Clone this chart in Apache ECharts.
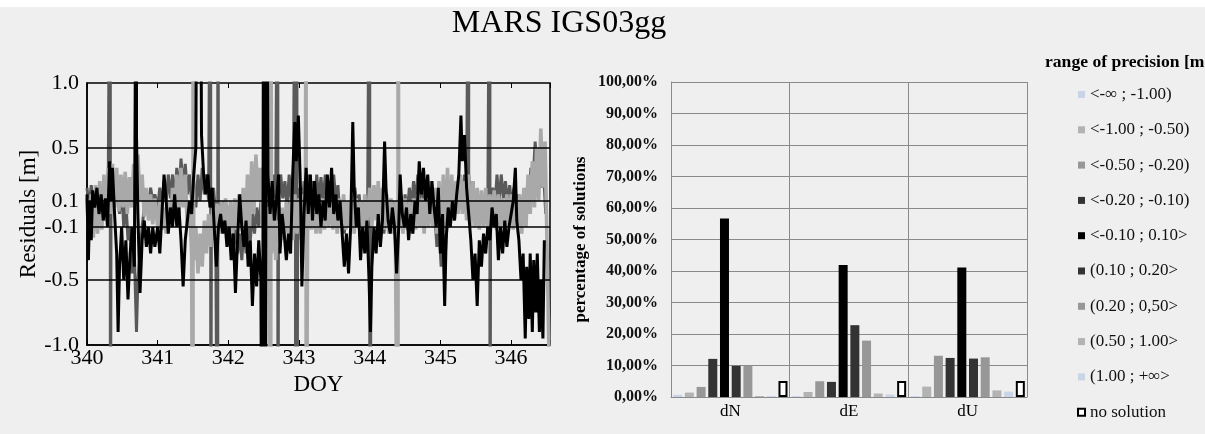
<!DOCTYPE html>
<html><head><meta charset="utf-8">
<script src="https://cdn.jsdelivr.net/npm/echarts@6/dist/echarts.min.js"></script>
<style>html,body{margin:0;padding:0;background:#efefef}#c{width:1205px;height:434px}</style>
</head><body><div id="c"></div>
<script>
// ---------- DATA ----------
// Left panel: residuals [m] vs DOY (three components; +-3 = off-scale outliers)
const doyTicks = [340, 341, 342, 343, 344, 345, 346];
const residualTicks = [-1.0, -0.5, -0.1, 0.1, 0.5, 1.0];
const residualTickLabels = ['-1.0', '-0.5', '-0.1', '0.1', '0.5', '1.0'];
const residualGridLines = [-0.5, -0.1, 0.1, 0.5];

const resLight = [[340.00,0.12],[340.03,-0.2],[340.06,0.15],[340.09,-0.18],[340.12,0.22],[340.15,-0.15],[340.18,0.25],[340.21,-0.12],[340.24,0.3],[340.27,-0.05],[340.30,0.35],[340.33,0.0],[340.36,0.38],[340.39,0.05],[340.42,0.35],[340.45,0.02],[340.48,0.3],[340.51,0.05],[340.54,0.32],[340.57,0.0],[340.60,0.28],[340.63,0.05],[340.66,0.38],[340.69,0.08],[340.72,0.45],[340.75,0.1],[340.78,0.3],[340.81,-0.02],[340.84,0.2],[340.87,-0.05],[340.90,0.15],[340.93,-0.08],[340.96,0.12],[341.00,-0.1],[341.03,0.1],[341.06,-0.12],[341.09,0.05],[341.12,-0.15],[341.15,0.1],[341.18,-0.1],[341.21,0.2],[341.24,-0.05],[341.27,0.3],[341.30,0.0],[341.33,0.35],[341.36,0.05],[341.39,0.3],[341.42,-0.1],[341.45,0.1],[341.48,-0.3],[341.50,-3],[341.50,3],[341.51,-0.35],[341.54,-0.1],[341.57,-0.45],[341.60,-0.15],[341.63,-0.4],[341.66,-0.05],[341.69,-0.3],[341.72,0.0],[341.75,-0.25],[341.78,0.05],[341.81,-0.2],[341.84,0.08],[341.87,-0.15],[341.90,0.1],[341.93,-0.12],[341.96,0.12],[342.00,-0.1],[342.03,0.1],[342.06,-0.15],[342.09,0.12],[342.12,-0.12],[342.15,0.15],[342.18,-0.1],[342.21,0.2],[342.24,-0.15],[342.27,0.3],[342.30,-0.1],[342.33,0.4],[342.36,0.0],[342.39,0.45],[342.42,0.1],[342.45,0.35],[342.48,-0.1],[342.51,0.2],[342.54,-0.25],[342.57,0.05],[342.60,-3],[342.60,3],[342.61,-0.3],[342.64,0.0],[342.67,-0.35],[342.70,-0.05],[342.73,-0.25],[342.76,0.05],[342.79,-0.2],[342.82,0.1],[342.85,-0.15],[342.88,0.1],[342.91,-0.2],[342.94,0.15],[342.97,-0.15],[343.00,0.12],[343.03,-0.2],[343.06,0.15],[343.09,-0.1],[343.10,3],[343.10,-3],[343.12,-0.15],[343.15,0.15],[343.18,-0.12],[343.21,0.12],[343.24,-0.15],[343.27,0.1],[343.30,-0.15],[343.33,0.12],[343.36,-0.12],[343.39,0.15],[343.42,-0.1],[343.45,0.18],[343.48,-0.12],[343.51,0.15],[343.54,-0.15],[343.57,0.12],[343.60,-0.1],[343.63,0.15],[343.66,-0.12],[343.69,0.1],[343.72,-0.1],[343.75,0.15],[343.78,-0.15],[343.81,0.12],[343.84,-0.1],[343.87,0.1],[343.90,-0.15],[343.93,0.15],[343.96,-0.1],[344.00,0.2],[344.03,-0.1],[344.06,0.22],[344.09,-0.05],[344.12,0.25],[344.15,-0.1],[344.18,0.2],[344.21,-0.12],[344.24,0.15],[344.27,-0.15],[344.30,0.12],[344.33,-0.15],[344.36,0.1],[344.40,-3],[344.40,3],[344.41,-0.1],[344.44,0.15],[344.47,-0.15],[344.50,0.12],[344.53,-0.12],[344.56,0.1],[344.59,-0.15],[344.62,0.12],[344.65,-0.12],[344.68,0.15],[344.71,-0.1],[344.74,0.12],[344.77,-0.15],[344.80,0.2],[344.83,-0.1],[344.86,0.25],[344.89,-0.1],[344.92,0.2],[344.95,-0.15],[344.98,0.25],[345.01,-0.2],[345.04,0.3],[345.07,-0.15],[345.10,0.35],[345.13,-0.1],[345.16,0.3],[345.19,-0.05],[345.22,0.25],[345.25,0.0],[345.28,0.3],[345.31,0.0],[345.34,0.25],[345.37,-0.05],[345.40,0.3],[345.43,-0.1],[345.46,0.25],[345.49,-0.1],[345.52,0.2],[345.55,-0.12],[345.58,0.18],[345.61,-0.1],[345.64,0.2],[345.67,-0.12],[345.70,0.15],[345.73,-0.1],[345.76,0.18],[345.79,-0.12],[345.82,0.15],[345.85,-0.1],[345.88,0.12],[345.91,-0.12],[345.94,0.15],[345.97,-0.1],[346.00,0.15],[346.03,-0.12],[346.06,0.12],[346.09,-0.1],[346.12,0.15],[346.15,-0.15],[346.18,0.2],[346.21,-0.1],[346.24,0.3],[346.27,0.0],[346.30,0.4],[346.33,0.05],[346.36,0.5],[346.39,0.1],[346.42,0.65],[346.45,0.2],[346.48,0.55],[346.50,0.0],[346.52,-0.6],[346.54,-1.2]];

const resDark = [[340.00,0.2],[340.03,0.05],[340.06,0.22],[340.09,0.08],[340.12,0.18],[340.15,0.02],[340.18,0.2],[340.21,0.05],[340.24,0.25],[340.27,0.1],[340.30,0.2],[340.33,3],[340.33,-3],[340.34,0.15],[340.37,0.3],[340.40,0.1],[340.43,0.25],[340.46,0.0],[340.49,0.2],[340.52,-0.1],[340.55,0.1],[340.58,-0.2],[340.61,-0.1],[340.64,-0.45],[340.67,-0.3],[340.70,-0.9],[340.72,-0.5],[340.75,-0.3],[340.78,-0.1],[340.81,0.05],[340.84,0.15],[340.87,0.05],[340.90,0.2],[340.93,0.1],[340.96,0.15],[341.00,0.05],[341.03,0.2],[341.06,0.05],[341.09,0.25],[341.12,0.1],[341.15,0.3],[341.18,0.12],[341.21,0.3],[341.24,0.1],[341.27,0.35],[341.30,0.15],[341.33,0.42],[341.36,0.2],[341.39,0.38],[341.42,0.15],[341.45,0.3],[341.48,0.1],[341.51,0.25],[341.54,0.05],[341.57,0.3],[341.60,0.1],[341.63,0.35],[341.66,0.15],[341.69,0.3],[341.72,0.1],[341.75,3],[341.75,-3],[341.76,0.05],[341.79,0.2],[341.82,0.0],[341.85,-3],[341.85,3],[341.86,0.1],[341.89,-0.05],[341.92,0.1],[341.95,-0.1],[341.98,0.0],[342.01,-0.15],[342.04,-0.05],[342.07,-0.25],[342.10,-0.1],[342.13,-0.3],[342.16,-0.15],[342.19,-0.35],[342.22,-0.1],[342.25,-0.3],[342.28,-0.05],[342.31,-0.2],[342.34,0.0],[342.37,-0.15],[342.40,0.05],[342.43,-0.1],[342.46,0.1],[342.49,0.0],[342.52,0.15],[342.55,0.05],[342.58,0.25],[342.61,0.1],[342.64,0.3],[342.67,0.12],[342.70,3],[342.70,-3],[342.71,0.1],[342.74,0.3],[342.77,0.12],[342.80,0.25],[342.83,0.05],[342.86,0.3],[342.89,0.1],[342.92,0.2],[342.95,3],[342.95,-3],[342.97,3],[342.97,-3],[342.98,0.0],[343.01,0.2],[343.04,0.0],[343.07,0.25],[343.10,0.05],[343.13,0.3],[343.16,0.1],[343.19,0.25],[343.22,0.05],[343.25,0.3],[343.28,0.1],[343.31,0.28],[343.34,0.08],[343.37,0.3],[343.40,0.1],[343.43,0.25],[343.46,0.05],[343.49,0.3],[343.52,0.1],[343.55,0.22],[343.58,-0.05],[343.61,0.1],[343.64,-0.15],[343.67,0.05],[343.70,-0.1],[343.73,0.1],[343.76,0.0],[343.79,0.2],[343.82,0.05],[343.85,0.15],[343.88,-0.05],[343.91,0.1],[343.94,-0.1],[343.97,0.05],[344.00,3],[344.00,-3],[344.02,0.0],[344.05,0.15],[344.08,0.0],[344.11,0.1],[344.14,-0.1],[344.17,0.05],[344.20,-0.15],[344.23,0.0],[344.26,0.1],[344.29,-0.05],[344.32,0.1],[344.35,-0.1],[344.38,0.05],[344.41,-0.1],[344.44,0.1],[344.47,-0.05],[344.50,0.15],[344.53,0.0],[344.56,0.2],[344.59,0.05],[344.62,0.25],[344.65,0.08],[344.68,0.3],[344.71,0.1],[344.74,0.3],[344.77,0.05],[344.80,0.25],[344.83,0.0],[344.86,0.15],[344.89,-0.1],[344.92,0.0],[344.95,-0.25],[344.98,-0.1],[345.01,-0.4],[345.04,-0.15],[345.07,-0.3],[345.10,0.0],[345.13,-0.1],[345.16,0.1],[345.19,0.0],[345.22,0.2],[345.25,0.05],[345.28,0.25],[345.31,0.1],[345.34,0.3],[345.37,0.1],[345.40,3],[345.40,0.3],[345.43,0.1],[345.46,0.25],[345.49,0.0],[345.52,0.15],[345.55,-0.1],[345.58,0.1],[345.61,-0.05],[345.64,0.15],[345.67,0.0],[345.70,3],[345.70,-3],[345.71,0.05],[345.74,0.2],[345.77,0.05],[345.80,0.3],[345.83,0.1],[345.86,0.3],[345.89,0.12],[345.92,0.25],[345.95,0.08],[345.98,0.22],[346.01,0.05],[346.04,0.2],[346.07,0.0],[346.10,0.15],[346.13,-0.05],[346.16,0.1],[346.19,0.0],[346.22,0.2],[346.25,0.1],[346.28,0.35],[346.31,0.25],[346.34,0.55],[346.37,0.3],[346.40,0.5],[346.43,0.2],[346.46,0.3],[346.49,0.0]];

const resBlack = [[340.00,0.15],[340.02,-0.35],[340.04,0.1],[340.06,-0.2],[340.08,0.18],[340.11,0.05],[340.14,0.2],[340.17,0.0],[340.20,0.15],[340.23,-0.05],[340.26,0.12],[340.29,-0.1],[340.32,0.4],[340.34,0.1],[340.36,0.35],[340.39,0.0],[340.42,-0.3],[340.44,-0.9],[340.46,-0.4],[340.49,-0.1],[340.52,-0.5],[340.55,-0.2],[340.58,-0.65],[340.61,-0.3],[340.64,-0.1],[340.67,-0.4],[340.70,3],[340.70,0.6],[340.72,0.0],[340.75,-0.6],[340.78,-0.2],[340.81,-0.05],[340.84,-0.25],[340.87,-0.1],[340.90,-0.3],[340.93,-0.1],[340.96,-0.25],[341.00,-0.1],[341.03,-0.3],[341.06,0.0],[341.09,0.3],[341.12,0.1],[341.15,-0.15],[341.18,0.05],[341.21,-0.1],[341.24,0.15],[341.27,-0.1],[341.30,0.05],[341.33,-0.2],[341.36,-0.55],[341.39,-0.2],[341.42,-0.05],[341.45,0.1],[341.48,0.0],[341.51,0.3],[341.54,0.5],[341.56,3],[341.60,3],[341.62,0.6],[341.65,0.3],[341.68,0.15],[341.71,0.3],[341.74,0.05],[341.77,0.2],[341.80,-0.1],[341.83,-0.4],[341.86,-0.1],[341.89,0.0],[341.92,-0.15],[341.95,-0.05],[341.98,-0.25],[342.01,-0.1],[342.04,-0.35],[342.07,-0.15],[342.10,-0.6],[342.13,-0.2],[342.16,0.15],[342.19,-0.1],[342.22,-0.25],[342.25,-0.05],[342.28,-0.4],[342.31,-0.2],[342.34,-0.7],[342.37,-0.3],[342.40,-0.55],[342.43,-0.2],[342.46,-0.5],[342.48,-3],[342.50,3],[342.52,-3],[342.54,3],[342.56,0.3],[342.59,0.0],[342.62,0.25],[342.65,-0.05],[342.68,0.1],[342.71,0.3],[342.73,-0.3],[342.76,0.0],[342.79,-0.15],[342.82,-0.35],[342.85,-0.15],[342.88,-0.3],[342.91,0.3],[342.94,0.7],[342.96,0.4],[342.99,0.75],[343.02,0.2],[343.04,-0.55],[343.07,0.0],[343.10,0.35],[343.13,0.0],[343.16,0.3],[343.19,-0.05],[343.22,0.25],[343.25,0.0],[343.28,0.15],[343.31,-0.1],[343.34,0.1],[343.37,-0.05],[343.40,0.3],[343.43,0.05],[343.46,0.35],[343.49,0.0],[343.52,0.15],[343.55,-0.05],[343.58,0.1],[343.61,-0.15],[343.64,-0.4],[343.67,-0.15],[343.70,-0.45],[343.73,-0.1],[343.76,0.7],[343.78,0.2],[343.81,-0.1],[343.84,0.05],[343.87,-0.35],[343.90,-0.1],[343.93,-0.3],[343.96,-0.05],[343.99,-0.5],[344.01,-0.9],[344.03,-0.4],[344.06,-0.1],[344.09,-0.3],[344.12,0.0],[344.15,-0.25],[344.18,-0.05],[344.21,0.55],[344.23,0.2],[344.26,-0.05],[344.29,-0.15],[344.32,0.05],[344.35,-0.1],[344.38,-0.45],[344.41,-0.1],[344.43,0.3],[344.46,0.0],[344.49,-0.1],[344.52,0.05],[344.55,-0.2],[344.58,0.0],[344.61,-0.15],[344.64,0.1],[344.67,0.0],[344.70,0.4],[344.73,0.15],[344.76,0.35],[344.79,0.1],[344.82,0.3],[344.85,0.0],[344.88,0.25],[344.91,0.05],[344.94,-0.1],[344.97,0.2],[345.00,-0.3],[345.03,0.0],[345.06,-0.7],[345.08,-0.2],[345.11,0.05],[345.14,-0.1],[345.17,0.1],[345.20,-0.05],[345.23,0.15],[345.26,0.3],[345.29,0.75],[345.31,0.4],[345.34,0.6],[345.37,0.2],[345.40,0.0],[345.43,-0.2],[345.46,-0.5],[345.49,-0.3],[345.52,-0.7],[345.55,-0.2],[345.58,-0.4],[345.61,-0.15],[345.64,-0.3],[345.67,-0.1],[345.70,-0.2],[345.73,0.05],[345.76,-0.1],[345.79,0.0],[345.82,-0.35],[345.85,-0.1],[345.88,-0.3],[345.91,-0.05],[345.94,-0.25],[345.97,-0.1],[346.00,0.0],[346.03,0.1],[346.06,0.35],[346.08,-0.05],[346.11,-0.2],[346.14,-0.5],[346.17,-0.3],[346.20,-0.95],[346.22,-0.4],[346.25,-0.8],[346.27,-0.3],[346.30,-0.9],[346.32,-0.35],[346.35,-0.75],[346.37,-0.3],[346.40,-0.9],[346.42,-0.5],[346.45,-0.95],[346.47,-0.2]];

// Right panel: percentage of solutions per precision range
const components = ['dN', 'dE', 'dU'];
const rangeNames = ['<-∞ ; -1.00)', '<-1.00 ; -0.50)', '<-0.50 ; -0.20)', '<-0.20 ; -0.10)', '<-0.10 ; 0.10>', '(0.10 ; 0.20>', '(0.20 ; 0,50>', '(0.50 ; 1.00>', '(1.00 ; +∞>', 'no solution'];
const pctDN = [0.7, 1.4, 3.2, 12.1, 56.7, 9.9, 9.9, 0.3, 0.3, 5.1];
const pctDE = [0.3, 1.6, 5.0, 4.8, 41.9, 22.8, 17.9, 1.1, 0.8, 5.1];
const pctDU = [0.3, 3.3, 13.1, 12.4, 41.1, 12.2, 12.6, 2.1, 1.7, 5.1];

// ---------- STYLE / SCALE ----------
// non-uniform residual axis: piecewise-linear scale (axis units per break)
const SCALE_UNITS = [0, 65, 118, 144, 197, 262];
function toAxis(m) {
  const b = residualTicks, u = SCALE_UNITS;
  let i = 0;
  if (m <= b[0]) i = 0; else if (m >= b[b.length - 1]) i = b.length - 2;
  else { while (m > b[i + 1]) i++; }
  return u[i] + (m - b[i]) * (u[i + 1] - u[i]) / (b[i + 1] - b[i]);
}
const barColors = ['#c9d5e6', '#b3b3b3', '#979797', '#333333', '#000000', '#333333', '#979797', '#b3b3b3', '#c9d5e6', '#ffffff'];
const serif = '"Liberation Serif", "DejaVu Serif", serif';

const chart = echarts.init(document.getElementById('c'), null, {renderer: 'canvas'});
const lineSeries = [
  {data: resDark, color: '#5a5a5a', w: 3},
  {data: resLight, color: '#a9a9a9', w: 3.6},
  {data: resBlack, color: '#000000', w: 3}
].map((s, k) => ({
  type: 'line', xAxisIndex: 0, yAxisIndex: 0, symbol: 'none', silent: true,
  data: s.data.map(p => [p[0], toAxis(p[1])]),
  lineStyle: {color: s.color, width: s.w, join: 'bevel'}, itemStyle: {color: s.color},
  z: 2 + k,
  markLine: k === 2 ? {
    silent: true, symbol: 'none', label: {show: false},
    lineStyle: {color: '#000', width: 1.6, type: 'solid'},
    data: residualGridLines.map(v => ({yAxis: toAxis(v)}))
  } : undefined
}));

const barSeries = rangeNames.map((name, i) => ({
  name, type: 'bar', xAxisIndex: 2, yAxisIndex: 1,
  barWidth: 9, barGap: '30%',
  data: [pctDN[i], pctDE[i], pctDU[i]],
  itemStyle: i === 9 ? {color: '#ffffff', borderColor: '#000', borderWidth: 2} : {color: barColors[i]}
}));

const option = {
  animation: false,
  backgroundColor: '#efefef',
  graphic: [
    {type: 'rect', shape: {x: 0, y: 0, width: 1205, height: 7}, style: {fill: '#ffffff'}, silent: true},
    {type: 'text', x: 559, y: 8, style: {text: 'MARS IGS03gg', font: '32px ' + serif, fill: '#000', align: 'center', verticalAlign: 'top'}},
    {type: 'text', x: 1045, y: 53, style: {text: 'range of precision [m]', font: 'bold 17.6px ' + serif, fill: '#000', align: 'left', verticalAlign: 'top'}}
  ],
  legend: {
    data: rangeNames, orient: 'vertical', left: 1072, top: 81,
    itemWidth: 7, itemHeight: 7, itemGap: 18.3, icon: 'rect', selectedMode: false,
    textStyle: {fontFamily: serif, fontSize: 17, color: '#111', lineHeight: 17}
  },
  grid: [
    {left: 87, top: 83, width: 463, height: 262, show: true, borderColor: '#000', borderWidth: 1.5, backgroundColor: 'transparent'},
    {left: 671, top: 82, width: 356, height: 315}
  ],
  xAxis: [
    {gridIndex: 0, type: 'value', min: 340, max: 346.55, interval: 1,
     name: 'DOY', nameLocation: 'middle', nameGap: 22,
     nameTextStyle: {fontFamily: serif, fontSize: 23, color: '#000'},
     axisLine: {show: true, lineStyle: {color: '#000', width: 1.5}},
     axisTick: {show: true, inside: true, length: 5, lineStyle: {color: '#000'}},
     axisLabel: {fontFamily: serif, fontSize: 22, color: '#000', margin: 2,
       customValues: doyTicks, formatter: v => String(v)},
     splitLine: {show: false}},
    {gridIndex: 0, type: 'value', position: 'top', min: 340, max: 346.55, interval: 1,
     axisLine: {show: false}, axisLabel: {show: false},
     axisTick: {show: true, inside: true, length: 5, lineStyle: {color: '#000'}},
     splitLine: {show: false}},
    {gridIndex: 1, type: 'category', data: components,
     axisLine: {show: true, lineStyle: {color: '#8a8a8a'}},
     axisTick: {show: false},
     axisLabel: {fontFamily: serif, fontSize: 17, color: '#000', margin: 6},
     splitLine: {show: true, interval: 0, lineStyle: {color: '#8a8a8a', width: 1}}}
  ],
  yAxis: [
    {gridIndex: 0, type: 'value', min: 0, max: 262,
     name: 'Residuals [m]', nameLocation: 'middle', nameGap: 38,
     nameTextStyle: {fontFamily: serif, fontSize: 23, color: '#000'},
     axisLine: {show: true, lineStyle: {color: '#000', width: 1.5}},
     axisTick: {show: false},
     axisLabel: {fontFamily: serif, fontSize: 22, color: '#000', margin: 8,
       customValues: residualTicks.map(toAxis),
       formatter: v => { const i = residualTicks.findIndex(t => Math.abs(toAxis(t) - v) < 0.5); return i >= 0 ? residualTickLabels[i] : ''; }},
     splitLine: {show: false}},
    {gridIndex: 1, type: 'value', min: 0, max: 100, interval: 10,
     name: 'percentage of solutions', nameLocation: 'middle', nameGap: 82,
     nameTextStyle: {fontFamily: serif, fontSize: 17, fontWeight: 'bold', color: '#000'},
     axisLine: {show: true, lineStyle: {color: '#8a8a8a'}},
     axisTick: {show: false},
     axisLabel: {fontFamily: serif, fontSize: 16, fontWeight: 'bold', color: '#111', margin: 13,
       formatter: v => v.toFixed(2).replace('.', ',') + '%'},
     splitLine: {show: true, lineStyle: {color: '#8a8a8a', width: 1}}}
  ],
  series: lineSeries.concat(barSeries)
};
chart.setOption(option);
</script></body></html>
